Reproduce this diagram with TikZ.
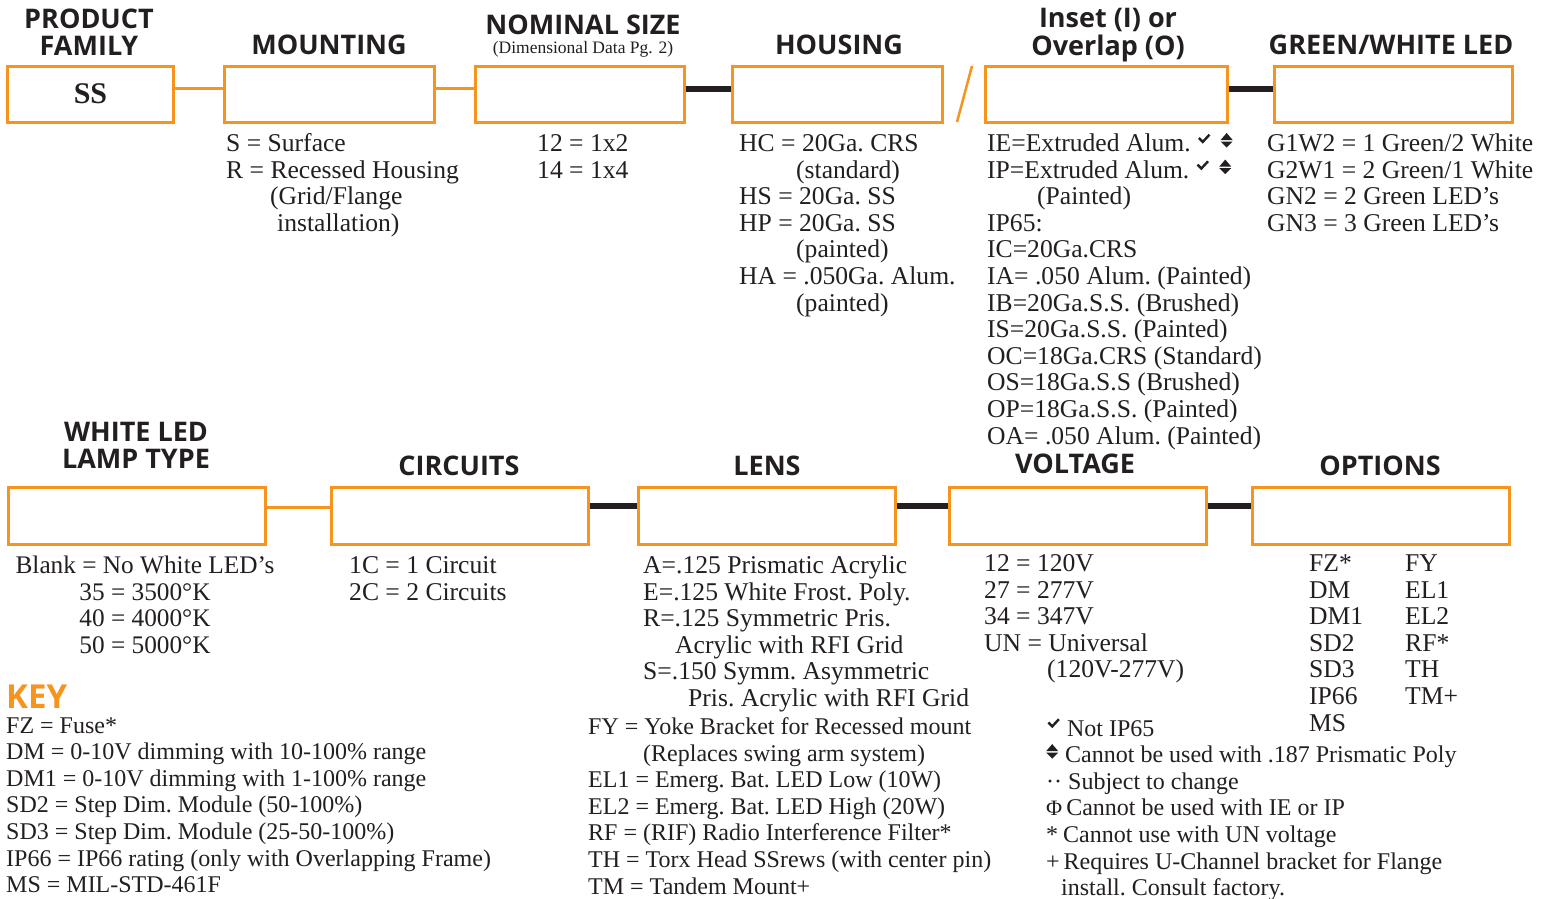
\documentclass[tikz,border=0pt]{standalone}
\usepackage{fontspec}
\setmainfont{Liberation Serif}
\newfontfamily\hdfont{Open Sans}
\newfontfamily\symfont{DejaVu Sans}
\usetikzlibrary{calc}
\definecolor{orng}{HTML}{F7941D}
\definecolor{ink}{HTML}{231F20}
\newcommand\mylines[1]{\begin{tabular}[t]{@{}l@{}}#1\end{tabular}}
\newcommand\mylinesc[1]{\begin{tabular}[t]{@{}c@{}}#1\end{tabular}}
\newcommand\ckm{\tikz[baseline=0pt,x=1pt,y=1pt]{\draw[ink,line width=2.4pt,line join=miter] (0,13.5)--(3.8,9.6)--(10.5,16.8);}}
\newcommand\updn{\tikz[baseline=0pt,x=1pt,y=1pt]{\fill[ink] (0,11.5)--(12,11.5)--(6,18.5)--cycle (0,10)--(12,10)--(6,4)--cycle;}}
\tikzset{
  obox/.style={draw=orng, line width=3pt, rectangle, inner sep=0pt, fill=white},
  topbox/.style={obox, minimum height=56pt},
  botbox/.style={obox, minimum height=57pt, minimum width=257pt},
  oline/.style={draw=orng, line width=3pt},
  kline/.style={draw=ink, line width=6pt},
  hdr/.style={inner sep=0pt, anchor=base, text=ink, font=\hdfont\bfseries\fontsize{27}{26}\selectfont},
  body/.style={inner sep=0pt, anchor=base west, text=ink, font=\fontsize{25.6}{26.6}\selectfont\frenchspacing},
  bodyc/.style={inner sep=0pt, anchor=base, text=ink, font=\fontsize{25.3}{26.6}\selectfont\frenchspacing},
  keytxt/.style={inner sep=0pt, anchor=base west, text=ink, font=\fontsize{24}{26.6}\selectfont\frenchspacing},
}
\begin{document}
\begin{tikzpicture}[x=1pt,y=-1pt]
\useasboundingbox[fill=white] (0,0) rectangle (1553,898);

% ---------- top row ----------
\node[hdr] (hPF) at (89,28) {\mylinesc{PRODUCT\\FAMILY}};
\node[hdr] (hMT) at (329,54) {MOUNTING};
\node[hdr] (hNS) at (583,34) {NOMINAL SIZE};
\node[inner sep=0pt, anchor=base, text=ink, font=\fontsize{17.5}{18}\selectfont] (hNSs) at (583,53) {(Dimensional Data Pg. 2)};
\node[hdr] (hHS) at (839,54) {HOUSING};
\node[hdr] (hIO) at (1108,27) {\mylinesc{Inset (I) or\\Overlap (O)}};
\node[hdr] (hGW) at (1391,54) {GREEN/WHITE LED};

\node[topbox, minimum width=166pt] (b1) at (90.5,94) {};
\node[inner sep=0pt, text=ink, font=\bfseries\fontsize{30}{30}\selectfont] (ss) at (b1.center) {SS};
\node[topbox, minimum width=210pt] (b2) at (329,94) {};
\node[topbox, minimum width=209pt] (b3) at (579.5,94) {};
\node[topbox, minimum width=210pt] (b4) at (837.5,94) {};
\node[topbox, minimum width=242pt] (b5) at (1106,94) {};
\node[topbox, minimum width=238pt] (b6) at (1393.5,94) {};

\draw[oline] (b1.east |- 0,88) -- (b2.west |- 0,88);
\draw[oline] (b2.east |- 0,88) -- (b3.west |- 0,88);
\draw[kline] (b3.east |- 0,89) -- (b4.west |- 0,89);
\draw[kline] (b5.east |- 0,89) -- (b6.west |- 0,89);
\draw[draw=orng, line width=2.5pt] (957,122) -- (972,66);

\node[body] (tMT) at (226,151.5) {\mylines{S = Surface\\R = Recessed Housing\\\hspace*{44pt}(Grid/Flange\\\hspace*{51pt}installation)}};
\node[body] (tNS) at (537,151.5) {\mylines{12 = 1x2\\14 = 1x4}};
\node[body] (tHS) at (739,151.5) {\mylines{HC = 20Ga. CRS\\\hspace*{57pt}(standard)\\HS = 20Ga. SS\\HP = 20Ga. SS\\\hspace*{57pt}(painted)\\HA = .050Ga. Alum.\\\hspace*{57pt}(painted)}};
\node[body] (tIO) at (987,151.5) {\mylines{IE=Extruded Alum.\hspace{7pt}\ckm\hspace{10pt}\updn\\IP=Extruded Alum.\hspace{7pt}\ckm\hspace{10pt}\updn\\\hspace*{50pt}(Painted)\\IP65:\\IC=20Ga.CRS\\IA= .050 Alum. (Painted)\\IB=20Ga.S.S. (Brushed)\\IS=20Ga.S.S. (Painted)\\OC=18Ga.CRS (Standard)\\OS=18Ga.S.S (Brushed)\\OP=18Ga.S.S. (Painted)\\OA= .050 Alum. (Painted)}};
\node[body] (tGW) at (1267,151.5) {\mylines{G1W2 = 1 Green/2 White\\G2W1 = 2 Green/1 White\\GN2 = 2 Green LED’s\\GN3 = 3 Green LED’s}};

% ---------- bottom row ----------
\node[hdr] (hWL) at (136,441) {\mylinesc{WHITE LED\\LAMP TYPE}};
\node[hdr] (hCI) at (459,475) {CIRCUITS};
\node[hdr] (hLE) at (767,475) {LENS};
\node[hdr] (hVO) at (1075,473) {VOLTAGE};
\node[hdr] (hOP) at (1380,475) {OPTIONS};

\node[botbox] (b7) at (136.5,515.5) {};
\node[botbox] (b8) at (459.5,515.5) {};
\node[botbox] (b9) at (766.5,515.5) {};
\node[botbox] (b10) at (1077.5,515.5) {};
\node[botbox] (b11) at (1380.5,515.5) {};

\draw[oline] (b7.east |- 0,507.5) -- (b8.west |- 0,507.5);
\draw[kline] (b8.east |- 0,505.5) -- (b9.west |- 0,505.5);
\draw[kline] (b9.east |- 0,505.5) -- (b10.west |- 0,505.5);
\draw[kline] (b10.east |- 0,505.5) -- (b11.west |- 0,505.5);

\node[bodyc] (tWL) at (145,573.5) {\mylinesc{Blank = No White LED’s\\35 = 3500°K\\40 = 4000°K\\50 = 5000°K}};
\node[body] (tCI) at (349,573.5) {\mylines{1C = 1 Circuit\\2C = 2 Circuits}};
\node[body] (tLE) at (643,573.5) {\mylines{A=.125 Prismatic Acrylic\\E=.125 White Frost. Poly.\\R=.125 Symmetric Pris.\\\hspace*{32pt}Acrylic with RFI Grid\\S=.150 Symm. Asymmetric\\\hspace*{45pt}Pris. Acrylic with RFI Grid}};
\node[body] (tVO) at (984,571.5) {\mylines{12 = 120V\\27 = 277V\\34 = 347V\\UN = Universal\\\hspace*{63pt}(120V-277V)}};
\node[body] (tOP1) at (1309,571.5) {\mylines{FZ*\\DM\\DM1\\SD2\\SD3\\IP66\\MS}};
\node[body] (tOP2) at (1405,571.5) {\mylines{FY\\EL1\\EL2\\RF*\\TH\\TM+}};

% ---------- key ----------
\node[inner sep=0pt, anchor=base west, text=orng, font=\hdfont\bfseries\fontsize{33}{33}\selectfont] (key) at (6,708.5) {KEY};
\node[keytxt] (k1) at (6,733) {\mylines{FZ = Fuse*\\DM = 0-10V dimming with 10-100\% range\\DM1 = 0-10V dimming with 1-100\% range\\SD2 = Step Dim. Module (50-100\%)\\SD3 = Step Dim. Module (25-50-100\%)\\IP66 = IP66 rating (only with Overlapping Frame)\\MS = MIL-STD-461F}};
\node[keytxt] (k2) at (588,734.5) {\mylines{FY = Yoke Bracket for Recessed mount\\\hspace*{55pt}(Replaces swing arm system)\\EL1 = Emerg. Bat. LED Low (10W)\\EL2 = Emerg. Bat. LED High (20W)\\RF = (RIF) Radio Interference Filter*\\TH = Torx Head SSrews (with center pin)\\TM = Tandem Mount+}};
\node[keytxt] (k3) at (1046,736) {\mylines{\hspace*{1pt}\ckm\hspace{7pt}Not IP65\\\updn\hspace{7pt}Cannot be used with .187 Prismatic Poly\\··\hspace{6pt}Subject to change\\{\fontsize{22}{22}\selectfont Φ}\hspace{4pt}Cannot be used with IE or IP\\{*}\hspace{5pt}Cannot use with UN voltage\\{+}\hspace{4pt}Requires U-Channel bracket for Flange\\\hspace*{15pt}install. Consult factory.}};
\end{tikzpicture}
\end{document}
